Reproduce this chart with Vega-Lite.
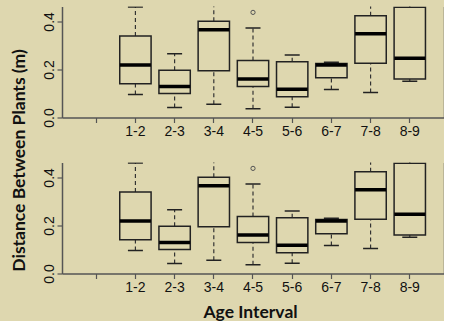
{
  "$schema": "https://vega.github.io/schema/vega-lite/v6.json",
  "background": "#ded7af",
  "padding": {"left": 10, "top": 6.5, "right": 0, "bottom": 0},
  "bounds": "flush",
  "spacing": 45,
  "datasets": {
    "boxes": [
      {"age": "1-2", "lower": 0.096, "q1": 0.140, "median": 0.218, "q3": 0.339, "upper": 0.460},
      {"age": "2-3", "lower": 0.042, "q1": 0.100, "median": 0.129, "q3": 0.197, "upper": 0.265},
      {"age": "3-4", "lower": 0.055, "q1": 0.195, "median": 0.365, "q3": 0.401, "upper": 0.500},
      {"age": "4-5", "lower": 0.036, "q1": 0.129, "median": 0.160, "q3": 0.2375, "upper": 0.372},
      {"age": "5-6", "lower": 0.043, "q1": 0.086, "median": 0.118, "q3": 0.232, "upper": 0.260},
      {"age": "6-7", "lower": 0.117, "q1": 0.165, "median": 0.218, "q3": 0.225, "upper": 0.230},
      {"age": "7-8", "lower": 0.104, "q1": 0.226, "median": 0.349, "q3": 0.424, "upper": 0.500},
      {"age": "8-9", "lower": 0.151, "q1": 0.160, "median": 0.247, "q3": 0.459, "upper": 0.500}
    ],
    "outliers": [
      {"age": "4-5", "value": 0.4375}
    ]
  },
  "config": {
    "view": {"stroke": null},
    "tick": {"opacity": 1},
    "point": {"opacity": 1},
    "axis": {
      "domainColor": "#555555", "domainWidth": 1.5, "tickColor": "#555555", "tickWidth": 1.2,
      "labelFont": "Liberation Sans", "labelFontSize": 14, "labelColor": "#111111",
      "titleFont": "Lato", "titleFontWeight": "bold", "titleFontSize": 17.5, "titleColor": "#111111",
      "grid": false
    }
  },
  "vconcat": [
    {
      "width": 382, "height": 111,
      "layer": [
        {
          "data": {"name": "boxes"},
          "mark": {"type": "rule", "strokeDash": [4, 3], "color": "#333333", "strokeWidth": 1.2, "clip": true},
          "encoding": {
            "x": {"field": "age", "type": "nominal", "scale": {"domain": ["0-1", "1-2", "2-3", "3-4", "4-5", "5-6", "6-7", "7-8", "8-9"], "paddingInner": 0.2, "paddingOuter": 0.473},
              "axis": {"title": null, "labelAngle": 0, "labelPadding": 2, "tickSize": 5, "labelExpr": "datum.value == '0-1' ? '' : datum.label"}},
            "y": {"field": "q3", "type": "quantitative", "scale": {"domain": [0, 0.462], "nice": false},
              "axis": {"orient": "left", "values": [0, 0.2, 0.4], "format": ".1f", "labelAngle": 270, "labelAlign": "center", "labelBaseline": "alphabetic", "labelPadding": 4, "tickSize": 5,
                "title": "Distance Between Plants (m)", "titleAngle": 270, "titleAlign": "center", "titleBaseline": "middle", "titleX": -43, "titleY": 153.5}},
            "y2": {"field": "upper"}
          }
        },
        {
          "data": {"name": "boxes"},
          "mark": {"type": "rule", "strokeDash": [4, 3], "color": "#333333", "strokeWidth": 1.2, "clip": true},
          "encoding": {
            "x": {"field": "age", "type": "nominal"},
            "y": {"field": "lower", "type": "quantitative", "axis": null},
            "y2": {"field": "q1"}
          }
        },
        {
          "data": {"name": "boxes"},
          "mark": {"type": "tick", "orient": "horizontal", "size": 15, "thickness": 1.5, "color": "#222222", "opacity": 1, "clip": true},
          "encoding": {
            "x": {"field": "age", "type": "nominal"},
            "y": {"field": "upper", "type": "quantitative", "axis": null}
          }
        },
        {
          "data": {"name": "boxes"},
          "mark": {"type": "tick", "orient": "horizontal", "size": 15, "thickness": 1.5, "color": "#222222", "opacity": 1, "clip": true},
          "encoding": {
            "x": {"field": "age", "type": "nominal"},
            "y": {"field": "lower", "type": "quantitative", "axis": null}
          }
        },
        {
          "data": {"name": "boxes"},
          "mark": {"type": "bar", "fill": "#ded7af", "stroke": "#222222", "strokeWidth": 1.5, "clip": true},
          "encoding": {
            "x": {"field": "age", "type": "nominal"},
            "y": {"field": "q1", "type": "quantitative", "axis": null},
            "y2": {"field": "q3"}
          }
        },
        {
          "data": {"name": "boxes"},
          "mark": {"type": "tick", "orient": "horizontal", "size": 31, "thickness": 3.5, "color": "#000000", "opacity": 1, "clip": true},
          "encoding": {
            "x": {"field": "age", "type": "nominal"},
            "y": {"field": "median", "type": "quantitative", "axis": null}
          }
        },
        {
          "data": {"name": "outliers"},
          "mark": {"type": "point", "shape": "circle", "size": 18, "filled": false, "stroke": "#555555", "strokeWidth": 1, "opacity": 1, "clip": true},
          "encoding": {
            "x": {"field": "age", "type": "nominal"},
            "y": {"field": "value", "type": "quantitative", "axis": {"orient": "right", "labels": false, "ticks": false, "title": null, "domain": true}}
          }
        }
      ],
      "resolve": {"axis": {"y": "independent"}}
    },
    {
      "width": 382, "height": 111,
      "layer": [
        {
          "data": {"name": "boxes"},
          "mark": {"type": "rule", "strokeDash": [4, 3], "color": "#333333", "strokeWidth": 1.2, "clip": true},
          "encoding": {
            "x": {"field": "age", "type": "nominal", "scale": {"domain": ["0-1", "1-2", "2-3", "3-4", "4-5", "5-6", "6-7", "7-8", "8-9"], "paddingInner": 0.2, "paddingOuter": 0.473},
              "axis": {"title": "Age Interval", "labelAngle": 0, "labelPadding": 2, "tickSize": 5, "labelExpr": "datum.value == '0-1' ? '' : datum.label",
                "titleBaseline": "middle", "titleX": 188, "titleY": 38.5}},
            "y": {"field": "q3", "type": "quantitative", "scale": {"domain": [0, 0.462], "nice": false},
              "axis": {"orient": "left", "values": [0, 0.2, 0.4], "format": ".1f", "labelAngle": 270, "labelAlign": "center", "labelBaseline": "alphabetic", "labelPadding": 4, "tickSize": 5, "title": null}},
            "y2": {"field": "upper"}
          }
        },
        {
          "data": {"name": "boxes"},
          "mark": {"type": "rule", "strokeDash": [4, 3], "color": "#333333", "strokeWidth": 1.2, "clip": true},
          "encoding": {
            "x": {"field": "age", "type": "nominal"},
            "y": {"field": "lower", "type": "quantitative", "axis": null},
            "y2": {"field": "q1"}
          }
        },
        {
          "data": {"name": "boxes"},
          "mark": {"type": "tick", "orient": "horizontal", "size": 15, "thickness": 1.5, "color": "#222222", "opacity": 1, "clip": true},
          "encoding": {
            "x": {"field": "age", "type": "nominal"},
            "y": {"field": "upper", "type": "quantitative", "axis": null}
          }
        },
        {
          "data": {"name": "boxes"},
          "mark": {"type": "tick", "orient": "horizontal", "size": 15, "thickness": 1.5, "color": "#222222", "opacity": 1, "clip": true},
          "encoding": {
            "x": {"field": "age", "type": "nominal"},
            "y": {"field": "lower", "type": "quantitative", "axis": null}
          }
        },
        {
          "data": {"name": "boxes"},
          "mark": {"type": "bar", "fill": "#ded7af", "stroke": "#222222", "strokeWidth": 1.5, "clip": true},
          "encoding": {
            "x": {"field": "age", "type": "nominal"},
            "y": {"field": "q1", "type": "quantitative", "axis": null},
            "y2": {"field": "q3"}
          }
        },
        {
          "data": {"name": "boxes"},
          "mark": {"type": "tick", "orient": "horizontal", "size": 31, "thickness": 3.5, "color": "#000000", "opacity": 1, "clip": true},
          "encoding": {
            "x": {"field": "age", "type": "nominal"},
            "y": {"field": "median", "type": "quantitative", "axis": null}
          }
        },
        {
          "data": {"name": "outliers"},
          "mark": {"type": "point", "shape": "circle", "size": 18, "filled": false, "stroke": "#555555", "strokeWidth": 1, "opacity": 1, "clip": true},
          "encoding": {
            "x": {"field": "age", "type": "nominal"},
            "y": {"field": "value", "type": "quantitative", "axis": {"orient": "right", "labels": false, "ticks": false, "title": null, "domain": true}}
          }
        }
      ],
      "resolve": {"axis": {"y": "independent"}}
    }
  ]
}
